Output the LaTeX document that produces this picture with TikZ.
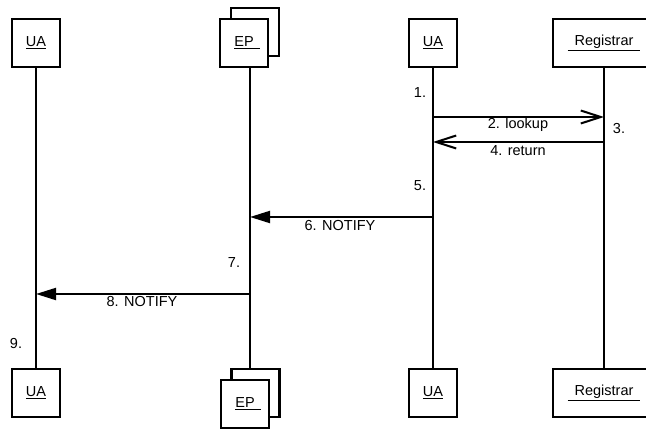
\documentclass[tikz,border=0pt]{standalone}
\usepackage{fontspec}
\setmainfont{Liberation Sans}
\usetikzlibrary{arrows.meta}

\begin{document}
\begin{tikzpicture}[x=1pt, y=-1pt,
  box/.style={draw, line width=2.4pt, fill=white, minimum width=48pt, minimum height=48pt,
    inner sep=0pt, font=\fontsize{14.5}{16}\selectfont},
  life/.style={line width=1.9pt},
  msgopen/.style={line width=2pt, -{Straight Barb[length=20pt, width=13pt, line width=2pt]}},
  msgfill/.style={line width=2pt, -{Triangle[length=20pt, width=12pt]}},
  lbl/.style={font=\fontsize{14.5}{16}\selectfont, inner sep=0pt}]
  \useasboundingbox (0,0) rectangle (646,430);
  % heads
  \node[box] (uaA) at (36,43) {\underline{UA}};
  \node[box] (epBk) at (255,32) {};
  \node[box] (epB) at (244,43) {\hspace*{6pt}\underline{EP\kern6pt}};
  \node[box] (uaC) at (433,43) {\underline{UA}};
  \node[box, minimum width=102pt] (reg) at (604,43) {\underline{\kern7pt Registrar\kern7pt}};
  % feet
  \node[box] (uaAf) at (36,393) {\underline{UA}};
  \node[box] (epBkf) at (255.5,393) {};
  \node[box] (epBf) at (245,404) {\hspace*{6pt}\underline{EP\kern6pt}};
  \node[box] (uaCf) at (433,393) {\underline{UA}};
  \node[box, minimum width=102pt] (regf) at (604,393) {\underline{\kern7pt Registrar\kern7pt}};
  % lifelines
  \coordinate (epTop) at ([xshift=6pt]epB.south);
  \coordinate (epBot) at ([xshift=-5.5pt]epBkf.north);
  \draw[life] (uaA) -- (uaAf);
  \draw[life] (epTop) -- (epBot);
  \draw[life] (uaC) -- (uaCf);
  \draw[life] (reg) -- (regf);
  % messages
  \draw[msgopen] (uaC |- 0,117) -- (reg |- 0,117);
  \draw[msgopen] (reg |- 0,142) -- (uaC |- 0,142);
  \draw[msgfill] (uaC |- 0,217) -- (epTop |- 0,217);
  \draw[msgfill] (epTop |- 0,294) -- (uaA |- 0,294);
  % steps
  \node[lbl] (s1) at (420,93) {1.};
  \node[lbl] (s2) at (518,125) {2. lookup};
  \node[lbl] (s3) at (619,129) {3.};
  \node[lbl] (s4) at (518,151) {4. return};
  \node[lbl] (s5) at (420,186) {5.};
  \node[lbl] (s6) at (340,226) {6. NOTIFY};
  \node[lbl] (s7) at (234,263) {7.};
  \node[lbl] (s8) at (142,302) {8. NOTIFY};
  \node[lbl] (s9) at (16,344) {9.};
\end{tikzpicture}
\end{document}
